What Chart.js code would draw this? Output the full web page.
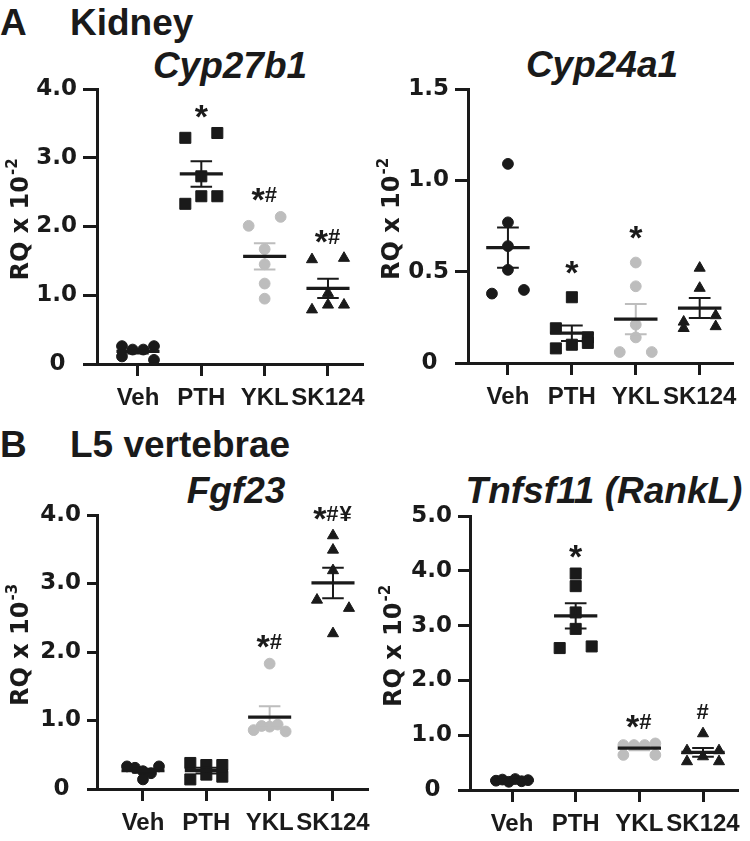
<!DOCTYPE html>
<html><head><meta charset="utf-8">
<script src="https://cdn.jsdelivr.net/npm/chart.js@4.4.1/dist/chart.umd.min.js"></script>
<style>
html,body{margin:0;padding:0;background:#fff;}
body{width:750px;height:841px;position:relative;overflow:hidden;font-family:"Liberation Sans",Arial,sans-serif;color:#1a1a1a;}
.t{position:absolute;font-weight:bold;font-size:37px;line-height:1;white-space:nowrap;}
.g{font-style:italic;text-align:center;width:400px;}
canvas{position:absolute;}
</style></head><body>
<div class="t" style="left:0;top:4px">A</div>
<div class="t" style="left:70px;top:4px">Kidney</div>
<div class="t g" style="left:30px;top:47px">Cyp27b1</div>
<div class="t g" style="left:402px;top:46px">Cyp24a1</div>
<div class="t" style="left:0;top:426px">B</div>
<div class="t" style="left:70px;top:426px">L5 vertebrae</div>
<div class="t g" style="left:36px;top:472px">Fgf23</div>
<div class="t g" style="left:404px;top:472px">Tnfsf11 (RankL)</div>
<canvas id="cA1"></canvas>
<canvas id="cA2"></canvas>
<canvas id="cB1"></canvas>
<canvas id="cB2"></canvas>
<script>
const categories = ['Veh', 'PTH', 'YKL', 'SK124'];

// A - Kidney, Cyp27b1 (RQ x 10^-2)
const cyp27b1Veh   = [0.11, 0.26, 0.21, 0.21, 0.26, 0.06];
const cyp27b1PTH   = [3.29, 3.36, 2.73, 2.33, 2.44, 2.44];
const cyp27b1YKL   = [2.01, 2.14, 1.67, 1.45, 1.17, 0.95];
const cyp27b1SK124 = [1.52, 1.54, 1.03, 0.79, 0.86, 0.86];
const cyp27b1Ticks = [0, 1, 2, 3, 4];
const cyp27b1Sig   = ['', '*', '*#', '*#'];

// A - Kidney, Cyp24a1 (RQ x 10^-2)
const cyp24a1Veh   = [0.38, 1.09, 0.77, 0.64, 0.51, 0.40];
const cyp24a1PTH   = [0.36, 0.19, 0.14, 0.08, 0.10, 0.11];
const cyp24a1YKL   = [0.55, 0.42, 0.21, 0.14, 0.06, 0.06];
const cyp24a1SK124 = [0.52, 0.41, 0.225, 0.26, 0.19, 0.20];
const cyp24a1Ticks = [0, 0.5, 1.0, 1.5];
const cyp24a1Sig   = ['', '*', '*', ''];

// B - L5 vertebrae, Fgf23 (RQ x 10^-3)
const fgf23Veh   = [0.33, 0.31, 0.26, 0.23, 0.33, 0.14];
const fgf23PTH   = [0.38, 0.14, 0.35, 0.21, 0.35, 0.18];
const fgf23YKL   = [1.83, 0.86, 0.92, 0.91, 0.94, 0.84];
const fgf23SK124 = [3.70, 3.49, 3.19, 2.76, 2.64, 2.27];
const fgf23Ticks = [0, 1, 2, 3, 4];
const fgf23Sig   = ['', '', '*#', '*#¥'];

// B - L5 vertebrae, Tnfsf11 (RankL) (RQ x 10^-2)
const rankVeh   = [0.17, 0.19, 0.15, 0.20, 0.16, 0.18];
const rankPTH   = [3.95, 3.72, 3.24, 2.94, 2.59, 2.62];
const rankYKL   = [0.64, 0.82, 0.82, 0.82, 0.85, 0.64];
const rankSK124 = [1.03, 0.72, 0.61, 0.72, 0.52, 0.52];
const rankTicks = [0, 1, 2, 3, 4, 5];
const rankSig   = ['', '*', '*#', '#'];

// ---- styles / layout ----
const BLACK = '#1a1a1a', GRAY = '#bdbdbd';
const groupStyle = [
  {shape: 'circle', r: 5.4, color: BLACK},
  {shape: 'rect', r: 7.8, color: BLACK},
  {shape: 'circle', r: 5.4, color: GRAY},
  {shape: 'triangle', r: 6.4, color: BLACK}
];
const Y_W = 97, X_H = 52, PAD_T = 20, PAD_B = 2, PAD_R = 13;
const ROW_H = 10, SPREAD = 16, MEAN_HALF = 0.34, CAP_HALF = 0.17;

const panels = [
  {id: 'cA1', groups: [cyp27b1Veh, cyp27b1PTH, cyp27b1YKL, cyp27b1SK124], ticks: cyp27b1Ticks, sig: cyp27b1Sig, sup: '-2',
   axisX: 97, right: 362, top: 89, bottom: 364, xMin: -0.647, xMax: 3.537, tickLen: 14, sigGap: 22},
  {id: 'cA2', groups: [cyp24a1Veh, cyp24a1PTH, cyp24a1YKL, cyp24a1SK124], ticks: cyp24a1Ticks, sig: cyp24a1Sig, sup: '-2',
   axisX: 468, right: 733, top: 89, bottom: 363, xMin: -0.625, xMax: 3.516, tickLen: 13, sigGap: 30},
  {id: 'cB1', groups: [fgf23Veh, fgf23PTH, fgf23YKL, fgf23SK124], ticks: fgf23Ticks, sig: fgf23Sig, sup: '-3',
   axisX: 97, right: 367, top: 515, bottom: 789, xMin: -0.726, xMax: 3.537, tickLen: 10, sigGap: 22},
  {id: 'cB2', groups: [rankVeh, rankPTH, rankYKL, rankSK124], ticks: rankTicks, sig: rankSig, sup: '-2',
   axisX: 470, right: 737, top: 516, bottom: 790, xMin: -0.66, xMax: 3.534, tickLen: 12, sigGap: 22}
];

function meanSem(vals) {
  const n = vals.length;
  const m = vals.reduce((a, b) => a + b, 0) / n;
  const sd = Math.sqrt(vals.reduce((a, b) => a + (b - m) * (b - m), 0) / (n - 1));
  return [m, sd / Math.sqrt(n)];
}

function drawSig(chart, cfg) {
  const ctx = chart.ctx, xs = chart.scales.x, ys = chart.scales.y;
  cfg.sig.forEach((s, g) => {
    if (!s) return;
    const cy = ys.getPixelForValue(Math.max(...cfg.groups[g])) - cfg.sigGap;
    const parts = [...s].map(ch => ({ch, font: ch === '*'
      ? 'bold 34px "Liberation Sans", Arial, sans-serif'
      : 'bold 22px "Liberation Sans", Arial, sans-serif'}));
    let total = 0;
    parts.forEach(p => {
      ctx.font = p.font;
      const m = ctx.measureText(p.ch);
      p.w = m.width + (p.ch === '*' ? 0 : 1);
      p.base = cy + (m.actualBoundingBoxAscent - m.actualBoundingBoxDescent) / 2;
      total += p.w;
    });
    let x = xs.getPixelForValue(g) - total / 2;
    ctx.save();
    ctx.fillStyle = BLACK; ctx.textBaseline = 'alphabetic'; ctx.textAlign = 'left';
    parts.forEach(p => { ctx.font = p.font; ctx.fillText(p.ch, x, p.base); x += p.w; });
    ctx.restore();
  });
}

function drawYTitle(chart, cfg) {
  const ctx = chart.ctx, a = chart.chartArea;
  const cx = a.left - 78, cy = (a.top + a.bottom) / 2 - 7;
  const f1 = 'bold 24px "DejaVu Sans", sans-serif', f2 = 'bold 15px "DejaVu Sans", sans-serif';
  ctx.save();
  ctx.translate(cx, cy); ctx.rotate(-Math.PI / 2);
  ctx.font = f1; const w1 = ctx.measureText('RQ x 10').width;
  ctx.font = f2; const w2 = ctx.measureText(cfg.sup).width;
  const x0 = -(w1 + w2 + 1) / 2;
  ctx.fillStyle = BLACK; ctx.textBaseline = 'alphabetic'; ctx.textAlign = 'left';
  ctx.font = f1; ctx.fillText('RQ x 10', x0, 8.7);
  ctx.font = f2; ctx.fillText(cfg.sup, x0 + w1 + 1, -2.5);
  ctx.restore();
}

function buildDatasets(cfg) {
  const ds = [];
  cfg.groups.forEach((vals, g) => {
    const st = groupStyle[g];
    ds.push({type: 'scatter', data: vals.map(v => ({x: g, y: v})), pointStyle: st.shape, pointRadius: st.r,
      backgroundColor: st.color, borderColor: st.color, borderWidth: 1, order: 2, clip: false, isPts: true, grp: g});
    const [m, s] = meanSem(vals);
    ds.push({type: 'line', data: [{x: g - MEAN_HALF, y: m}, {x: g + MEAN_HALF, y: m}], borderColor: BLACK,
      borderWidth: 3.2, pointRadius: 0, fill: false, order: 1, clip: false, borderCapStyle: 'butt'});
    ds.push({type: 'line', data: [
        {x: g - CAP_HALF, y: m + s}, {x: g + CAP_HALF, y: m + s}, {x: g, y: null},
        {x: g, y: m + s}, {x: g, y: m - s}, {x: g, y: null},
        {x: g - CAP_HALF, y: m - s}, {x: g + CAP_HALF, y: m - s}],
      borderColor: st.color, borderWidth: 2, pointRadius: 0, fill: false, spanGaps: false, order: 1, clip: false});
  });
  return ds;
}

function swarm(chart, cfg) {
  const xs = chart.scales.x, ys = chart.scales.y;
  const pxPerX = Math.abs(xs.getPixelForValue(1) - xs.getPixelForValue(0));
  chart.data.datasets.forEach(d => {
    if (!d.isPts) return;
    const vals = cfg.groups[d.grp], g = d.grp;
    const py = vals.map(v => ys.getPixelForValue(v));
    const idx = vals.map((_, i) => i).sort((a, b) => py[a] - py[b] || a - b);
    const rows = [];
    idx.forEach(i => {
      const r = rows[rows.length - 1];
      if (r && py[i] - py[r[0]] < ROW_H) r.push(i); else rows.push([i]);
    });
    const off = vals.map(() => 0);
    rows.forEach(r => {
      r.sort((a, b) => a - b);
      const n = r.length;
      r.forEach((i, k) => { off[i] = n === 1 ? 0 : -SPREAD + 2 * SPREAD * k / (n - 1); });
    });
    d.data = vals.map((v, i) => ({x: g + off[i] / pxPerX, y: v}));
  });
  chart.update('none');
}

panels.forEach(cfg => {
  const cv = document.getElementById(cfg.id);
  const left = cfg.axisX - Y_W, top = cfg.top - PAD_T;
  const w = cfg.right + PAD_R - left, h = cfg.bottom + X_H + PAD_B - top;
  cv.width = w; cv.height = h;
  cv.style.left = left + 'px'; cv.style.top = top + 'px';
  cv.style.width = w + 'px'; cv.style.height = h + 'px';
  const chart = new Chart(cv, {
    data: {datasets: buildDatasets(cfg)},
    options: {
      responsive: false, animation: false, events: [], devicePixelRatio: 1,
      layout: {padding: {top: PAD_T, bottom: PAD_B, left: 0, right: PAD_R}},
      plugins: {legend: {display: false}, tooltip: {enabled: false}, title: {display: false}},
      scales: {
        x: {type: 'linear', min: cfg.xMin, max: cfg.xMax,
          afterBuildTicks: s => { s.ticks = categories.map((_, i) => ({value: i})); },
          afterFit: s => { s.height = X_H; },
          ticks: {autoSkip: false, maxRotation: 0, minRotation: 0, padding: 8, color: BLACK,
            font: {family: '"Liberation Sans", Arial, sans-serif', size: 24, weight: 'bold'},
            callback: v => categories[v] ?? ''},
          grid: {drawOnChartArea: false, drawTicks: true, tickLength: 12, lineWidth: 3, color: BLACK},
          border: {display: true, width: 3, color: BLACK}},
        y: {type: 'linear', min: 0, max: cfg.ticks[cfg.ticks.length - 1],
          afterBuildTicks: s => { s.ticks = cfg.ticks.map(v => ({value: v})); },
          afterFit: s => { s.width = Y_W; },
          ticks: {padding: 6, color: BLACK,
            font: {family: '"DejaVu Sans", sans-serif', size: 23, weight: 'bold'},
            callback: v => v === 0 ? '0\u2002' : v.toFixed(1)},
          grid: {drawOnChartArea: false, drawTicks: true, tickLength: cfg.tickLen, lineWidth: 3, color: BLACK},
          border: {display: true, width: 3, color: BLACK}}
      }
    },
    plugins: [{id: 'decor', afterDraw(c) { drawYTitle(c, cfg); drawSig(c, cfg); }}]
  });
  swarm(chart, cfg);
});
</script>
</body></html>
